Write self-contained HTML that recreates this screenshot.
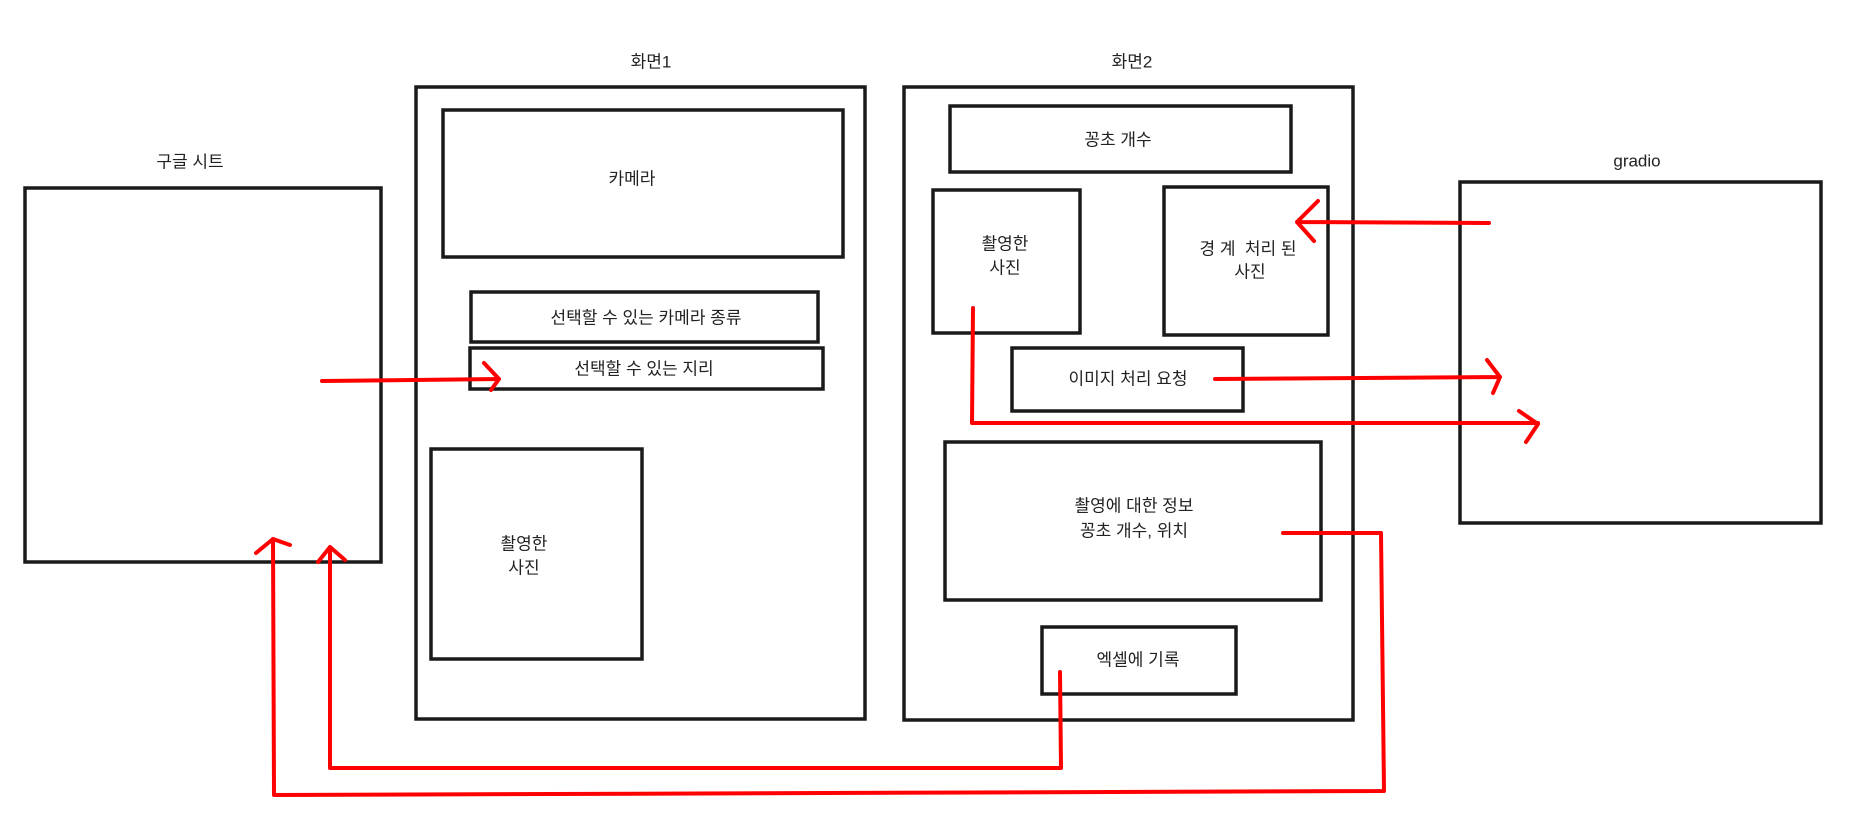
<!DOCTYPE html>
<html><head><meta charset="utf-8"><style>
html,body{margin:0;padding:0;background:#fff;}
svg{display:block;}
text{font-family:"Liberation Sans","Noto Sans CJK KR",sans-serif;font-size:17px;fill:#222;text-anchor:middle;dominant-baseline:central;}
.b{fill:none;stroke:#1a1a1a;stroke-width:3.5;}
.r{fill:none;stroke:#ff0000;stroke-width:4;stroke-linecap:round;stroke-linejoin:round;}
</style></head><body>
<svg width="1855" height="832" viewBox="0 0 1855 832" xmlns="http://www.w3.org/2000/svg">
<text x="190" y="162">구글 시트</text>
<rect class="b" x="25" y="188" width="356" height="374"/>
<text x="651" y="62">화면1</text>
<rect class="b" x="416" y="87" width="449" height="632"/>
<rect class="b" x="443" y="110" width="400" height="147"/>
<text x="632" y="179">카메라</text>
<rect class="b" x="471" y="292" width="347" height="50"/>
<text x="646" y="318">선택할 수 있는 카메라 종류</text>
<rect class="b" x="470" y="348" width="353" height="41"/>
<text x="644" y="369">선택할 수 있는 지리</text>
<rect class="b" x="431" y="449" width="211" height="210"/>
<text x="524" y="544">촬영한</text>
<text x="524" y="568">사진</text>
<text x="1132" y="62">화면2</text>
<rect class="b" x="904" y="87" width="449" height="633"/>
<rect class="b" x="950" y="106" width="341" height="66"/>
<text x="1118" y="140">꽁초 개수</text>
<rect class="b" x="933" y="190" width="147" height="143"/>
<text x="1005" y="244">촬영한</text>
<text x="1005" y="268">사진</text>
<rect class="b" x="1164" y="187" width="164" height="148"/>
<text x="1248" y="249">경 계&#160;&#160;처리 된</text>
<text x="1250" y="272">사진</text>
<rect class="b" x="1012" y="348" width="231" height="63"/>
<text x="1128" y="379">이미지 처리 요청</text>
<rect class="b" x="945" y="442" width="376" height="158"/>
<text x="1134" y="506">촬영에 대한 정보</text>
<text x="1134" y="531">꽁초 개수, 위치</text>
<rect class="b" x="1042" y="627" width="194" height="67"/>
<text x="1138" y="660">엑셀에 기록</text>
<text x="1637" y="161">gradio</text>
<rect class="b" x="1460" y="182" width="361" height="341"/>
<path class="r" d="M322 381 L499 379 M484 363 L499 379 L491 390"/>
<path class="r" d="M1489 223 L1297 222 M1318 201 L1297 222 L1314 241"/>
<path class="r" d="M1215 379 L1500 377 M1487 360 L1500 377 L1493 393"/>
<path class="r" d="M973 308 L972 423 L1538 423 M1519 411 L1538 424 L1526 442"/>
<path class="r" d="M1283 533 L1381 533 L1384 791 L274 795 L273 539 M256 553 L273 539 L290 545"/>
<path class="r" d="M1060 672 L1061 768 L330 768 L330 547 M318 562 L330 547 L345 560"/>
</svg>
</body></html>
